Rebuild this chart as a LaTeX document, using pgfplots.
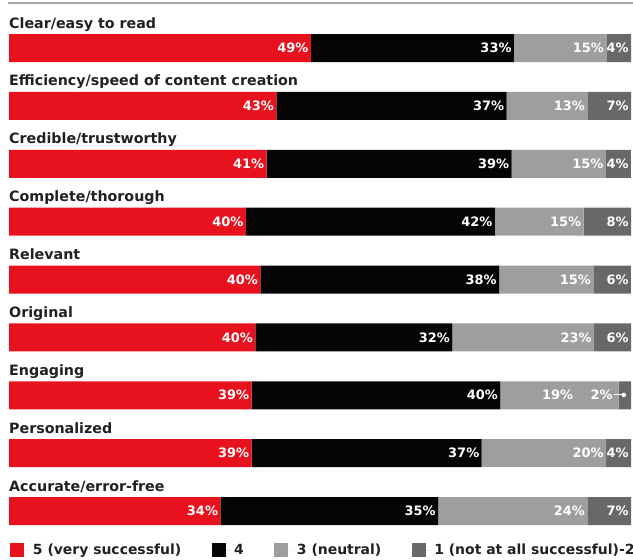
\documentclass[border=0pt]{standalone}
\usepackage{fontspec}
\setmainfont{DejaVu Sans}
\usepackage{pgfplots}
\usepackage{pgfplotstable}
\pgfplotsset{compat=1.18}

\definecolor{vred}{HTML}{E8111E}
\definecolor{vblack}{HTML}{050505}
\definecolor{vlight}{HTML}{9E9E9E}
\definecolor{vdark}{HTML}{686868}
\definecolor{rulegray}{HTML}{A6A6A6}

\tikzset{rowtitle/.style={anchor=base west, inner sep=0pt, yshift=20bp,
    font=\bfseries\fontsize{14.3}{14.3}\selectfont, text=black!87}}

% share of respondents per rating: a = 5, b = 4, c = 3, d = 1-2
\pgfplotstableread{
row a  b  c  d
0   49 33 15 4
1   43 37 13 7
2   41 39 15 4
3   40 42 15 8
4   40 38 15 6
5   40 32 23 6
6   39 40 19 2
7   39 37 20 4
8   34 35 24 7
}\ratings

% each row is scaled to fill the full bar
\newcommand{\share}[1]{100*\thisrow{#1}/(\thisrow{a}+\thisrow{b}+\thisrow{c}+\thisrow{d})}
% labels are right-aligned at the end of their segment
\newcommand{\plainlabel}[1]{\llap{#1\%}}
% leader from a small value's label to its segment
\newcommand{\leader}{\rlap{\kern1.5bp\rule[4.5bp]{7.5bp}{1bp}\tikz[baseline=0pt]\fill[white] (0bp,5bp) circle (2.3bp);}}
% the 2% segment is too narrow for its label: set it off to the left
\newcommand{\lightlabel}[1]{\llap{#1\%\ifnum#1=19\relax\hspace{43bp}\fi}}
\newcommand{\darklabel}[1]{\llap{#1\%\ifnum#1=2\relax\leader\hspace{16bp}\fi}}

\begin{document}
\begin{tikzpicture}
\useasboundingbox (-9bp,-35bp) rectangle (624bp,525bp);
\draw[rulegray, line width=1.6bp] (-1bp,522bp) -- (624bp,522bp);
\begin{axis}[
  xbar stacked,
  bar width=28bp,
  scale only axis,
  width=622bp, height=491bp,
  xmin=0, xmax=100,
  ymin=-0.242, ymax=8.242,
  y dir=reverse,
  axis lines=none,
  clip=false,
  point meta=explicit symbolic,
  nodes near coords={\plainlabel{\pgfplotspointmeta}},
  % labels are placed at the segment middle: move them by half the segment (3.11bp per unit)
  every node near coord/.append style={xshift={\shiftx bp}, inner sep=0pt,
    text=white, font=\bfseries\fontsize{13}{13}\selectfont},
  legend columns=4,
  legend style={at={(0.002,-0.0509)}, anchor=west, draw=none, fill=none,
    inner sep=0pt, font=\bfseries\fontsize{14}{14}\selectfont, text=black!87,
    nodes={inner sep=0pt, inner xsep=3.5bp},
    /tikz/every even column/.append style={column sep=27bp}},
  legend image code/.code={\fill[#1] (0bp,-7bp) rectangle (14bp,7bp);
    \path (0bp,0bp) -- (19bp,0bp);},
]
\addplot[fill=vred, draw=none, visualization depends on={\share{a}*3.11-2.5 \as \shiftx}]
  table[x expr={\share{a}}, y=row, meta=a]{\ratings};
\addplot[fill=vblack, draw=none, visualization depends on={\share{b}*3.11-2.5 \as \shiftx}]
  table[x expr={\share{b}}, y=row, meta=b]{\ratings};
\addplot[fill=vlight, draw=none, visualization depends on={\share{c}*3.11-2.5 \as \shiftx},
  nodes near coords={\lightlabel{\pgfplotspointmeta}}]
  table[x expr={\share{c}}, y=row, meta=c]{\ratings};
\addplot[fill=vdark, draw=none, visualization depends on={\share{d}*3.11-2.5 \as \shiftx},
  nodes near coords={\darklabel{\pgfplotspointmeta}}]
  table[x expr={\share{d}}, y=row, meta=d]{\ratings};
\legend{5 (very successful), 4, 3 (neutral), 1 (not at all successful)-2}

\node[rowtitle] at (axis cs:0,0) {Clear/easy to read};
\node[rowtitle] at (axis cs:0,1) {Efficiency/speed of content creation};
\node[rowtitle] at (axis cs:0,2) {Credible/trustworthy};
\node[rowtitle] at (axis cs:0,3) {Complete/thorough};
\node[rowtitle] at (axis cs:0,4) {Relevant};
\node[rowtitle] at (axis cs:0,5) {Original};
\node[rowtitle] at (axis cs:0,6) {Engaging};
\node[rowtitle] at (axis cs:0,7) {Personalized};
\node[rowtitle] at (axis cs:0,8) {Accurate/error-free};
\end{axis}
\end{tikzpicture}
\end{document}
